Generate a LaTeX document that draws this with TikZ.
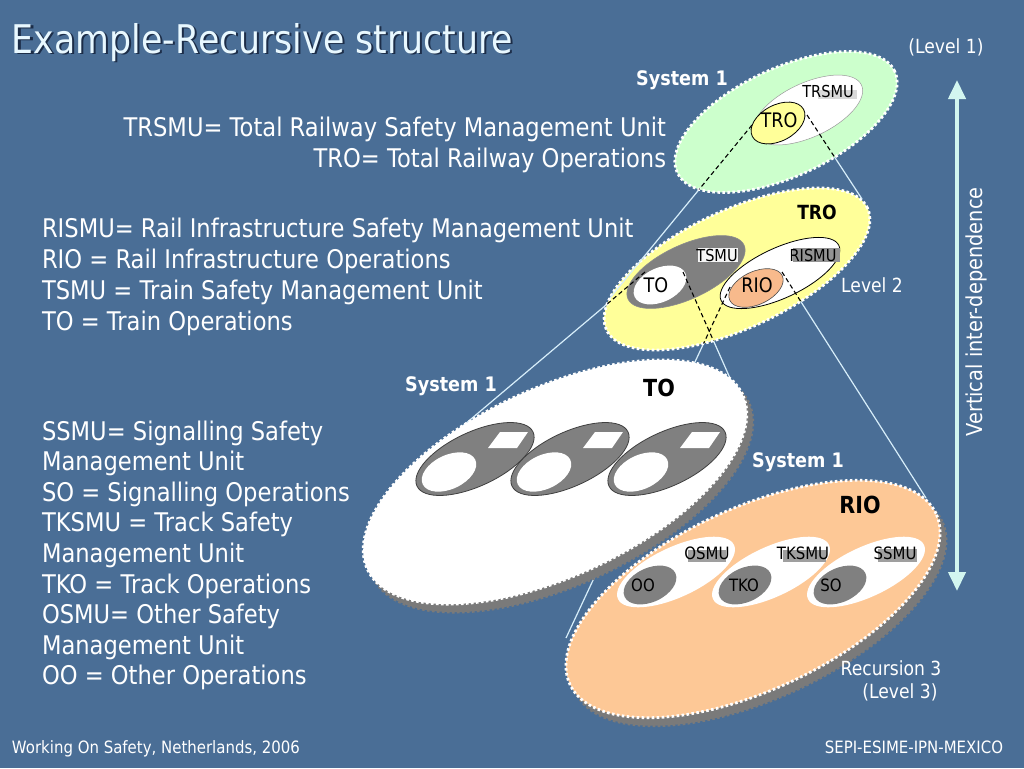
\documentclass[tikz,border=0pt]{standalone}
\usepackage{fontspec}
\setmainfont{DejaVu Sans}[FakeStretch=0.88]
\usetikzlibrary{shapes.geometric,arrows.meta}
\definecolor{bgblue}{RGB}{74,110,150}
\definecolor{mintg}{RGB}{204,255,204}
\definecolor{lyellow}{RGB}{255,255,153}
\definecolor{peach}{RGB}{253,200,150}
\definecolor{peachs}{RGB}{248,186,140}
\definecolor{midgray}{RGB}{128,128,128}
\definecolor{shgray}{RGB}{122,122,122}
\definecolor{conel}{RGB}{215,238,250}
\definecolor{arrowc}{RGB}{210,246,240}
\definecolor{titlec}{RGB}{232,248,255}
\definecolor{titlesh}{RGB}{28,45,72}
\begin{document}
\begin{tikzpicture}[x=1pt,y=-1pt,
  every node/.style={inner sep=0pt,outer sep=0pt},
  bigell/.style={ellipse,draw=white,line width=2.8pt,dash pattern=on 2.6pt off 2.4pt,rotate=25},
  shadell/.style={ellipse,fill=shgray,draw=shgray,line width=2.8pt,dash pattern=on 2.6pt off 2.4pt,rotate=25},
  ell/.style={ellipse,rotate=25},
  cone/.style={draw=conel,line width=1.2pt},
  dcone/.style={draw=black,line width=1.1pt,dash pattern=on 4.5pt off 3pt},
  body/.style={text=white,font=\fontsize{25.7}{30}\selectfont},
  lab/.style={text=black,font=\fontsize{16.5}{19}\selectfont},
  labm/.style={text=black,font=\fontsize{20}{23}\selectfont},
  labs/.style={text=black,font=\fontsize{17}{20}\selectfont},
  blab/.style={text=black,font=\bfseries\fontsize{19.5}{22}\selectfont},
  blabl/.style={text=black,font=\bfseries\fontsize{23.5}{26}\selectfont},
  sys/.style={text=white,font=\bfseries\fontsize{20}{23}\selectfont},
  lvl/.style={text=white,font=\fontsize{19.5}{23}\selectfont}
]
\useasboundingbox (0,0) rectangle (1024,768);
\fill[bgblue] (0,0) rectangle (1024,768);

% cone coordinates
\coordinate (c1s) at (752,125); \coordinate (c1e) at (610,298);
\coordinate (c2s) at (807,115); \coordinate (c2e) at (862,199);
\coordinate (c3s) at (645,272); \coordinate (c3e) at (445,441);
\coordinate (c4s) at (683,272); \coordinate (c4e) at (745,412);
\coordinate (c5s) at (730,287); \coordinate (c5e) at (566,638);
\coordinate (c6s) at (782,272); \coordinate (c6e) at (926,498);

% level-2 cone lines (outside parts)
\draw[cone] (c3s) -- (c3e);
\draw[cone] (c4s) -- (c4e);
\draw[cone] (c5s) -- (c5e);
\draw[cone] (c6s) -- (c6e);

% ---------- Level 3: RIO ----------
\node[shadell,minimum width=404pt,minimum height=182pt] (rio3sh) at (759,607) {};
\node[bigell,fill=peach,minimum width=404pt,minimum height=182pt] (rio3) at (753,599) {};
\foreach \n/\cx in {osmu/676,tksmu/771,ssmu/866}{
  \node[ell,fill=white,minimum width=128pt,minimum height=50pt] (\n) at (\cx,572) {};
}
\foreach \n/\cx in {oo/650,tko/745,so/840}{
  \node[ell,fill=midgray,minimum width=56pt,minimum height=34pt] (\n) at (\cx,585) {};
}
\fill[gray!75] (688,550) rectangle (726,562);
\fill[gray!75] (783,550) rectangle (826,562);
\fill[gray!75] (878,549) rectangle (917,562);
\node[labs] (osmuL) at (707,553) {OSMU};
\node[labs] (tksmuL) at (803,553) {TKSMU};
\node[labs] (ssmuL) at (895,553) {SSMU};
\node[labs] (ooL) at (643,585) {OO};
\node[labs] (tkoL) at (744,585) {TKO};
\node[labs] (soL) at (831,585) {SO};
\node[blabl] (rio3L) at (860,505) {RIO};
\node[sys] (sys3b) at (798,462) {System 1};
\node[lvl] (rec3) at (891,668) {Recursion 3};
\node[lvl] (lev3) at (900,692) {(Level 3)};

% ---------- Level 3: TO ----------
\node[shadell,minimum width=414pt,minimum height=188pt] (to3sh) at (561,490) {};
\node[bigell,fill=white,minimum width=414pt,minimum height=188pt] (to3) at (555,482) {};
\foreach \n/\cx in {g1/475,g2/570,g3/667}{
  \node[ell,fill=midgray,draw=black!75,line width=0.8pt,minimum width=128pt,minimum height=54pt] (\n) at (\cx,459) {};
  \node[ell,fill=white,minimum width=58pt,minimum height=34pt] (\n w) at (\cx-26,472) {};
  \fill[white] (\cx+13,448) -- (\cx+25,432) -- (\cx+53,432) -- (\cx+42,448) -- cycle;
}
\node[blabl] (to3L) at (659,388) {TO};
\node[sys] (sys3a) at (451,386) {System 1};

% ---------- Level 2 ----------
\node[bigell,fill=lyellow,minimum width=288pt,minimum height=118pt] (L2) at (737,269) {};
\node[ell,fill=midgray,draw=black!45,line width=0.6pt,minimum width=128pt,minimum height=54pt] (tsmuE) at (686,272) {};
\node[ell,fill=white,minimum width=56pt,minimum height=34pt] (toE) at (660,285) {};
\node[ell,fill=white,draw=black,line width=0.8pt,minimum width=130pt,minimum height=50pt] (rismuE) at (780,273) {};
\node[ell,fill=peachs,draw=black!70,line width=0.6pt,minimum width=58pt,minimum height=33pt] (rioE) at (756,288) {};
\fill[white!92!gray] (698,248) rectangle (738,262);
\fill[gray!85] (793,248) rectangle (840,262);
\node[lab] (tsmuL) at (717,255) {TSMU};
\node[lab] (rismuL) at (813,255) {RISMU};
\node[labm] (toL) at (656,285) {TO};
\node[labm] (rioL) at (757,285) {RIO};
\node[blab] (tro2L) at (817,212) {TRO};
\node[lvl] (lev2) at (872,285) {Level 2};

% level-1 cone lines (outside parts)
\draw[cone] (c1s) -- (c1e);
\draw[cone] (c2s) -- (c2e);

% ---------- Level 1 ----------
\node[bigell,fill=mintg,minimum width=240pt,minimum height=108pt] (L1) at (786,122) {};
\node[ell,fill=white,draw=black!40,line width=0.5pt,minimum width=118pt,minimum height=54pt] (trsmuE) at (808,110) {};
\node[ellipse,rotate=28,fill=lyellow,draw=black,line width=0.8pt,minimum width=58pt,minimum height=36pt] (troE) at (778,123) {};
\fill[gray!30] (818,90) rectangle (857,99);
\node[lab] (trsmuL) at (828,91) {TRSMU};
\node[labm] (troL) at (779,120) {TRO};
\node[sys] (sys1) at (682,80) {System 1};
\node[lvl] (lev1) at (946,47) {(Level 1)};

% dashed parts of the cones, inside their parent ellipses
\begin{scope}
  \clip[rotate around={25:(L1)}] (L1) ellipse [x radius=120pt, y radius=54pt];
  \draw[dcone] (c1s) -- (c1e);
  \draw[dcone] (c2s) -- (c2e);
\end{scope}
\begin{scope}
  \clip[rotate around={25:(L2)}] (L2) ellipse [x radius=144pt, y radius=59pt];
  \draw[dcone] (c3s) -- (c3e);
  \draw[dcone] (c4s) -- (c4e);
  \draw[dcone] (c5s) -- (c5e);
  \draw[dcone] (c6s) -- (c6e);
\end{scope}

% ---------- vertical arrow ----------
\coordinate (vtop) at (957,80);
\coordinate (vbot) at (957,591);
\draw[arrowc,line width=4pt,{Triangle[width=17pt,length=19pt]}-{Triangle[width=17pt,length=19pt]}] (vtop) -- (vbot);
\node[text=white,font=\fontsize{22}{26}\selectfont,rotate=90] (vlab) at (976,312) {Vertical inter-dependence};

% ---------- title ----------
\node[anchor=base west,text=titlesh,font=\fontsize{39.5}{44}\selectfont] (titlesh) at (14,55) {Example-Recursive structure};
\node[anchor=base west,text=titlec,font=\fontsize{39.5}{44}\selectfont] (title) at (12,53) {Example-Recursive structure};

% ---------- definitions ----------
\node[body,anchor=base east] (d1) at (666,136) {TRSMU= Total Railway Safety Management Unit};
\node[body,anchor=base east] (d2) at (666,167) {TRO= Total Railway Operations};

\node[body,anchor=base west] (e1) at (42,237) {RISMU= Rail Infrastructure Safety Management Unit};
\node[body,anchor=base west] (e2) at (42,268) {RIO = Rail Infrastructure Operations};
\node[body,anchor=base west] (e3) at (42,299) {TSMU = Train Safety Management Unit};
\node[body,anchor=base west] (e4) at (42,330) {TO = Train Operations};

\foreach \t [count=\i from 0] in {SSMU= Signalling Safety,Management Unit,SO = Signalling Operations,TKSMU = Track Safety,Management Unit,TKO = Track Operations,OSMU= Other Safety,Management Unit,OO = Other Operations}{
  \node[body,anchor=base west] (f\i) at (42,440+30.6*\i) {\t};
}

% ---------- footer ----------
\node[anchor=base west,text=white,font=\fontsize{17}{19}\selectfont] (footl) at (12,753) {Working On Safety, Netherlands, 2006};
\node[anchor=base east,text=white,font=\fontsize{17}{19}\selectfont] (footr) at (1003,753) {SEPI-ESIME-IPN-MEXICO};
\end{tikzpicture}
\end{document}
